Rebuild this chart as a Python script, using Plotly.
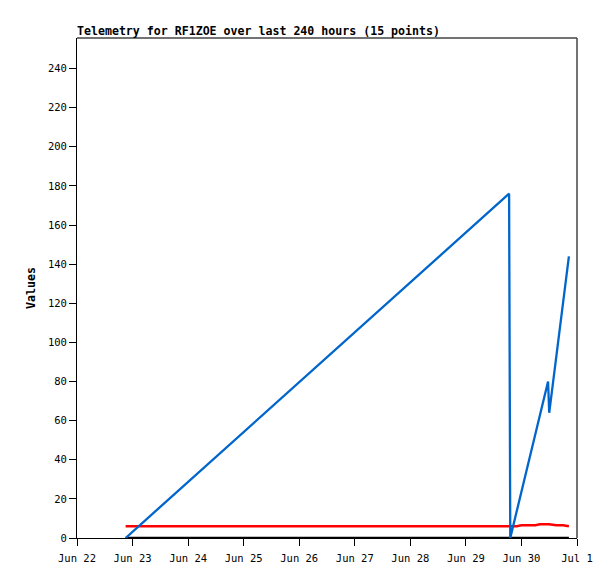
import plotly.graph_objects as go

times = [
    "2024-06-22 21:00", "2024-06-29 18:40", "2024-06-29 19:10", "2024-06-29 22:00",
    "2024-06-30 00:00", "2024-06-30 02:00", "2024-06-30 04:00", "2024-06-30 06:00",
    "2024-06-30 08:00", "2024-06-30 10:00", "2024-06-30 11:30", "2024-06-30 12:00",
    "2024-06-30 15:00", "2024-06-30 18:00", "2024-06-30 20:30",
]
blue_vals = [0, 176, 0, 14, 24, 33, 43, 53, 63, 72, 80, 64, 93, 121, 144]
red_vals = [6, 6, 6, 6, 6.5, 6.5, 6.5, 6.5, 7, 7, 7, 7, 6.5, 6.5, 6]
black_vals = [0] * 15

x_tickvals = ["2024-06-22", "2024-06-23", "2024-06-24", "2024-06-25", "2024-06-26",
              "2024-06-27", "2024-06-28", "2024-06-29", "2024-06-30", "2024-07-01"]
x_ticktext = ["Jun 22", "Jun 23", "Jun 24", "Jun 25", "Jun 26",
              "Jun 27", "Jun 28", "Jun 29", "Jun 30", "Jul 1"]
y_tickvals = list(range(0, 260, 20))

mono = "DejaVu Sans Mono"
OFF = 8  # page body margin offset
W, H = 615 - OFF, 579 - OFF

fig = go.Figure()
fig.add_trace(go.Scatter(x=times, y=black_vals, mode="lines",
                         line=dict(color="#000000", width=2.5), showlegend=False))
fig.add_trace(go.Scatter(x=times, y=red_vals, mode="lines",
                         line=dict(color="#FF0000", width=2.5), showlegend=False))
fig.add_trace(go.Scatter(x=times, y=blue_vals, mode="lines",
                         line=dict(color="#0066CC", width=2.3), showlegend=False))

fig.update_layout(
    width=W, height=H,
    margin=dict(l=77 - OFF, r=38, t=38 - OFF, b=41),
    paper_bgcolor="white", plot_bgcolor="white",
    title=dict(text="<b>Telemetry for RF1ZOE over last 240 hours (15 points)</b>",
               x=(77 - OFF) / W, xanchor="left", y=1 - (31 - OFF) / H, yanchor="middle",
               font=dict(family=mono, size=11.6, color="#000000")),
    xaxis=dict(range=["2024-06-22", "2024-07-01"], tickvals=x_tickvals, ticktext=x_ticktext,
               showgrid=False, zeroline=False, showline=True, linecolor="#000000", linewidth=1,
               ticks="outside", ticklen=7, tickcolor="#000000", tickwidth=1,
               ticklabelstandoff=3,
               tickfont=dict(family=mono, size=10.5, color="#000000")),
    yaxis=dict(range=[0, 255.6], tickvals=y_tickvals,
               showgrid=False, zeroline=False, showline=True, linecolor="#000000", linewidth=1,
               ticks="outside", ticklen=7, tickcolor="#000000", tickwidth=1,
               tickfont=dict(family=mono, size=10.5, color="#000000"),
               title=dict(text="<b>Values</b>", font=dict(family=mono, size=11.6, color="#000000"),
                          standoff=9)),
    shapes=[
        dict(type="line", xref="paper", yref="paper", x0=0, x1=1, y0=1, y1=1,
             line=dict(color="#444444", width=1.5)),
        dict(type="line", xref="paper", yref="paper", x0=1, x1=1, y0=0, y1=1,
             line=dict(color="#444444", width=1.5)),
    ],
)

fig.write_html("out.html")
